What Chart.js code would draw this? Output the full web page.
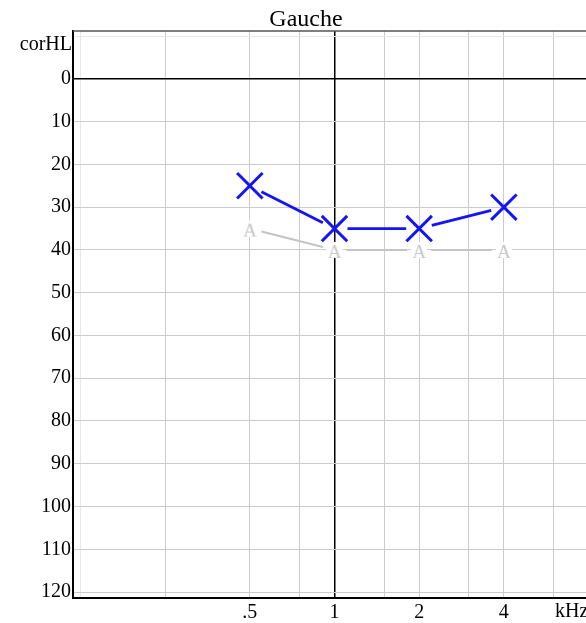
<!DOCTYPE html>
<html>
<head>
<meta charset="utf-8">
<script src="https://cdn.jsdelivr.net/npm/chart.js@4"></script>
<style>
  body { margin: 0; overflow: hidden; background: #fff; }
  #wrap { width: 612px; height: 623px; }
</style>
</head>
<body>
<div id="wrap"><canvas id="audio" width="612" height="623"></canvas></div>
<script>
// data (left ear)
const freqs = [500, 1000, 2000, 4000];
const airLeft = [25, 35, 35, 30];
const aidedLeft = [35, 40, 40, 40];
const xTicks = [125, 250, 500, 750, 1000, 1500, 2000, 3000, 4000, 6000, 8000];
const xTickLabels = { 500: ".5", 1000: "1", 2000: "2", 4000: "4" };
const yTicks = [-10, 0, 10, 20, 30, 40, 50, 60, 70, 80, 90, 100, 110, 120];

const SERIF = "'Liberation Serif', 'DejaVu Serif', serif";

// "A" marker with a white box behind it
function makeAMarker() {
    var c = document.createElement("canvas");
    c.width = 18; c.height = 18;
    var g = c.getContext("2d");
    g.fillStyle = "#fff";
    g.fillRect(1, 1, 16, 16);
    g.fillStyle = "#c8c8c8";
    g.font = "19px " + SERIF;
    g.textAlign = "center";
    g.textBaseline = "alphabetic";
    g.fillText("A", 9, 17);
    return c;
}

// connecting lines that stop short of the markers
const gapLines = {
    id: "gapLines",
    beforeDatasetsDraw(chart) {
        var ctx = chart.ctx;
        chart.data.datasets.forEach(function (ds, i) {
            var pts = chart.getDatasetMeta(i).data;
            var gap = ds.gap || 10;
            ctx.save();
            ctx.strokeStyle = ds.lineColor;
            ctx.lineWidth = ds.lineW;
            for (var k = 0; k < pts.length - 1; k++) {
                var a = pts[k], b = pts[k + 1];
                var dx = b.x - a.x, dy = b.y - a.y;
                var len = Math.sqrt(dx * dx + dy * dy);
                var ux = dx / len, uy = dy / len;
                ctx.beginPath();
                ctx.moveTo(a.x + ux * gap, a.y + uy * gap);
                ctx.lineTo(b.x - ux * gap, b.y - uy * gap);
                ctx.stroke();
            }
            ctx.restore();
        });
    }
};

// title, unit labels and top border
const extras = {
    id: "extras",
    afterDraw(chart) {
        var ctx = chart.ctx, area = chart.chartArea;
        var y = chart.scales.y;
        ctx.save();
        ctx.strokeStyle = "#555";
        ctx.lineWidth = 1.5;
        ctx.beginPath();
        ctx.moveTo(area.left, area.top);
        ctx.lineTo(area.right, area.top);
        ctx.stroke();

        ctx.fillStyle = "#000";
        ctx.font = "24px " + SERIF;
        ctx.textAlign = "center";
        ctx.textBaseline = "alphabetic";
        ctx.fillText("Gauche", 306, 26);

        ctx.font = "20px " + SERIF;
        ctx.textAlign = "right";
        ctx.textBaseline = "middle";
        ctx.fillText("corHL", area.left - 1, y.getPixelForValue(-8));

        ctx.textAlign = "left";
        ctx.fillText("kHz", 555, 612);
        ctx.restore();
    }
};

function xGridColor(c) {
    var v = c.tick && c.tick.value;
    if (v === 1000) return "#000";
    if (v === 125) return "#e8e8e8";
    return "#cccccc";
}
function yGridColor(c) {
    var v = c.tick && c.tick.value;
    if (v === 0) return "#000";
    if (v === -10) return "#e8e8e8";
    return "#cccccc";
}

var ctx = document.getElementById("audio").getContext("2d");
var audioChart = new Chart(ctx, {
    type: "line",
    data: {
        datasets: [{
            label: "Aided",
            data: freqs.map((f, i) => ({ x: f, y: aidedLeft[i] })),
            showLine: false,
            pointStyle: makeAMarker(),
            lineColor: "#c4c4c4",
            lineW: 2,
            gap: 12
        }, {
            label: "Air left",
            data: freqs.map((f, i) => ({ x: f, y: airLeft[i] })),
            showLine: false,
            pointStyle: "crossRot",
            pointRadius: 18,
            pointHoverRadius: 18,
            borderColor: "#1414f5",
            pointBorderWidth: 3,
            lineColor: "#1414f5",
            lineW: 2.8,
            gap: 13
        }]
    },
    options: {
        responsive: false,
        animation: false,
        devicePixelRatio: 1,
        layout: { padding: { top: 31, right: 19, left: 0, bottom: 0 } },
        plugins: { legend: { display: false }, tooltip: { enabled: false }, title: { display: false } },
        scales: {
            x: {
                type: "logarithmic",
                min: 117.6,
                max: 8163,
                afterBuildTicks: s => { s.ticks = xTicks.map(v => ({ value: v })); },
                afterFit: s => { s.height = 25; },
                grid: { color: xGridColor, lineWidth: c => (c.tick && c.tick.value === 1000 ? 1.5 : 1), drawTicks: false },
                border: { color: "#000", width: 2 },
                ticks: {
                    autoSkip: false,
                    maxRotation: 0,
                    padding: 3,
                    color: "#000",
                    font: { family: SERIF, size: 20 },
                    callback: v => xTickLabels[v] || ""
                }
            },
            y: {
                type: "linear",
                reverse: true,
                min: -11.2,
                max: 121.4,
                afterBuildTicks: s => { s.ticks = yTicks.map(v => ({ value: v })); },
                afterFit: s => { s.width = 73; },
                grid: { color: yGridColor, lineWidth: c => (c.tick && c.tick.value === 0 ? 1.5 : 1), drawTicks: false },
                border: { color: "#000", width: 2 },
                ticks: {
                    padding: 2,
                    color: "#000",
                    font: { family: SERIF, size: 20 },
                    callback: v => (v === -10 ? "" : String(v))
                }
            }
        }
    },
    plugins: [gapLines, extras]
});
</script>
</body>
</html>
